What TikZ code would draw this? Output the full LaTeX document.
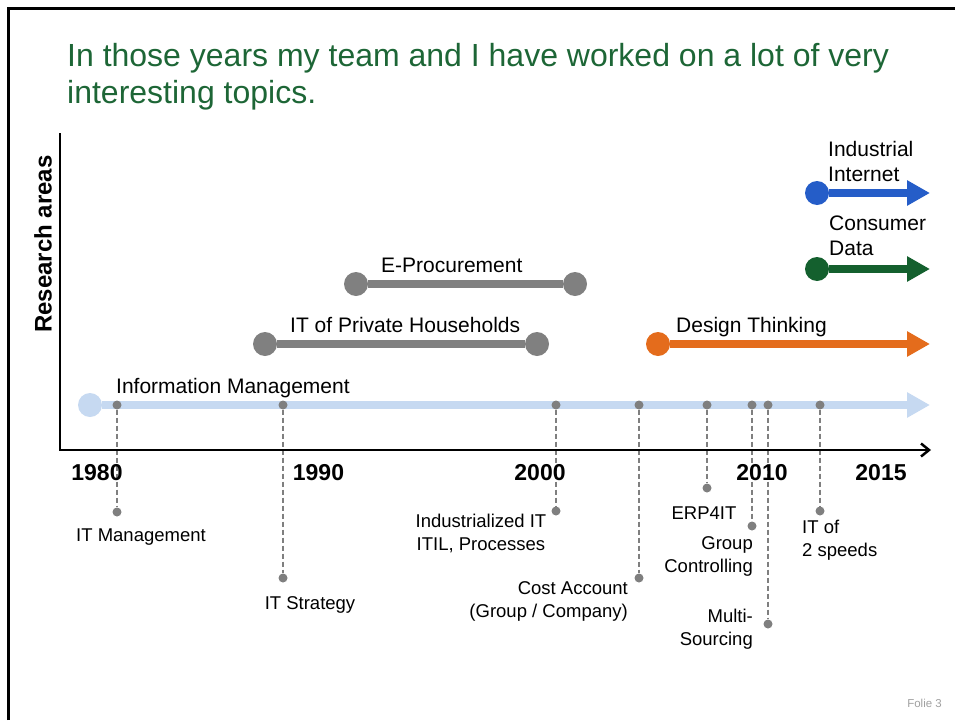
\documentclass[tikz,border=0pt]{standalone}
\usepackage{fontspec}
\setmainfont{Liberation Sans}
\usetikzlibrary{arrows.meta}
\definecolor{titlegreen}{HTML}{1D6636}
\definecolor{datagreen}{HTML}{14602E}
\definecolor{iiblue}{HTML}{255DC8}
\definecolor{dtorange}{HTML}{E46C1C}
\definecolor{bargray}{HTML}{808080}
\definecolor{dotgray}{HTML}{7F7F7F}
\definecolor{tlblue}{HTML}{C6D9F1}
\definecolor{foliegray}{HTML}{A0A0A0}
\begin{document}
\begin{tikzpicture}[x=1pt,y=-1pt,
  bar/.style={line width=8pt},
  endcirc/.style={circle, fill=#1, draw=none, inner sep=0pt, minimum size=24pt},
  tdot/.style={circle, fill=dotgray, draw=none, inner sep=0pt, minimum size=9pt},
  leader/.style={dotgray, line width=1.3pt, dash pattern=on 5pt off 3pt},
  biglab/.style={font=\fontsize{21}{25}\selectfont, inner sep=0pt, align=left, anchor=base west},
  smalllab/.style={font=\fontsize{18.5}{23}\selectfont, inner sep=0pt},
  yearlab/.style={font=\fontsize{23}{27}\selectfont\bfseries, inner sep=0pt, anchor=base},
  tip/.style={-{Triangle[length=23pt,width=24pt]}}
]
\useasboundingbox (0,0) rectangle (955,720);
% frame
\draw[line width=2.5pt] (8.7,720) -- (8.7,8.7) -- (955,8.7);
% title (base anchor = baseline of last line)
\node[font=\fontsize{32}{37}\selectfont, text=titlegreen, inner sep=0pt, align=left, anchor=base west] (title) at (67,103)
  {In those years my team and I have worked on a lot of very\\interesting topics.};
% y label
\node[font=\fontsize{24}{28}\selectfont\bfseries, rotate=90, inner sep=0pt] (ylab) at (43,244) {Research areas};

% timeline (Information Management)
\node[endcirc=tlblue] (im0) at (90,405) {};
\coordinate (imend) at (930,405);
\draw[bar, tlblue, tip] (im0) -- (imend);
\node[biglab] (imlab) at (116,393) {Information Management};

% timeline dots
\node[tdot] (t1) at (117,405) {};
\node[tdot] (t2) at (283,405) {};
\node[tdot] (t3) at (556,405) {};
\node[tdot] (t4) at (639,405) {};
\node[tdot] (t5) at (707,405) {};
\node[tdot] (t6) at (752,405) {};
\node[tdot] (t7) at (768,405) {};
\node[tdot] (t8) at (820,405) {};
% end dots
\node[tdot] (b1) at (117,512) {};
\node[tdot] (b2) at (283,578) {};
\node[tdot] (b3) at (556,511) {};
\node[tdot] (b4) at (639,578) {};
\node[tdot] (b5) at (707,488) {};
\node[tdot] (b6) at (752,526) {};
\node[tdot] (b7) at (768,624) {};
\node[tdot] (b8) at (820,511) {};
\foreach \i in {1,...,8} \draw[leader] (t\i) -- (b\i);

% topic labels
\node[smalllab, anchor=base] (l1) at (141,541) {IT Management};
\node[smalllab, anchor=base] (l2) at (310,609) {IT Strategy};
\node[smalllab, anchor=base, align=center] (l3) at (481,550) {Industrialized IT\\ITIL, Processes};
\node[smalllab, anchor=base east, align=right] (l4) at (628,617) {Cost Account\\(Group / Company)};
\node[smalllab, anchor=base] (l5) at (704,519) {ERP4IT};
\node[smalllab, anchor=base east, align=right] (l6) at (753,572) {Group\\Controlling};
\node[smalllab, anchor=base east, align=right] (l7) at (753,645) {Multi-\\Sourcing};
\node[smalllab, anchor=base west, align=left] (l8) at (802,556) {IT of\\2 speeds};

% IT of Private Households
\node[endcirc=bargray] (ph1) at (265,344) {};
\node[endcirc=bargray] (ph2) at (537,344) {};
\draw[bar, bargray] (ph1) -- (ph2);
\node[biglab] (phlab) at (290,332) {IT of Private Households};

% E-Procurement
\node[endcirc=bargray] (ep1) at (356,284) {};
\node[endcirc=bargray] (ep2) at (575,284) {};
\draw[bar, bargray] (ep1) -- (ep2);
\node[biglab] (eplab) at (381,272) {E-Procurement};

% Design Thinking
\node[endcirc=dtorange] (dt1) at (658,344) {};
\coordinate (dtend) at (930,344);
\draw[bar, dtorange, tip] (dt1) -- (dtend);
\node[biglab] (dtlab) at (676,332) {Design Thinking};

% Consumer Data
\node[endcirc=datagreen] (cd1) at (817,269) {};
\coordinate (cdend) at (930,269);
\draw[bar, datagreen, tip] (cd1) -- (cdend);
\node[biglab] (cdlab) at (829,255) {Consumer\\Data};

% Industrial Internet
\node[endcirc=iiblue] (ii1) at (817,193) {};
\coordinate (iiend) at (930,193);
\draw[bar, iiblue, tip] (ii1) -- (iiend);
\node[biglab] (iilab) at (828,181) {Industrial\\Internet};

% axes
\coordinate (ytop) at (60,133);
\coordinate (origin) at (60,450);
\coordinate (xend) at (931,450);
\draw[line width=2.5pt, line join=miter, -{Straight Barb[length=8pt,width=13pt]}] (ytop) -- (origin) -- (xend);

% years
\node[yearlab] (y1980) at (97,480) {1980};
\node[yearlab] (y1990) at (318.5,480) {1990};
\node[yearlab] (y2000) at (540,480) {2000};
\node[yearlab] (y2010) at (762,480) {2010};
\node[yearlab] (y2015) at (881,480) {2015};

% footer
\node[font=\fontsize{11.5}{13}\selectfont, text=foliegray, inner sep=0pt, anchor=base east] (folie) at (942,707) {Folie 3};
\end{tikzpicture}
\end{document}
